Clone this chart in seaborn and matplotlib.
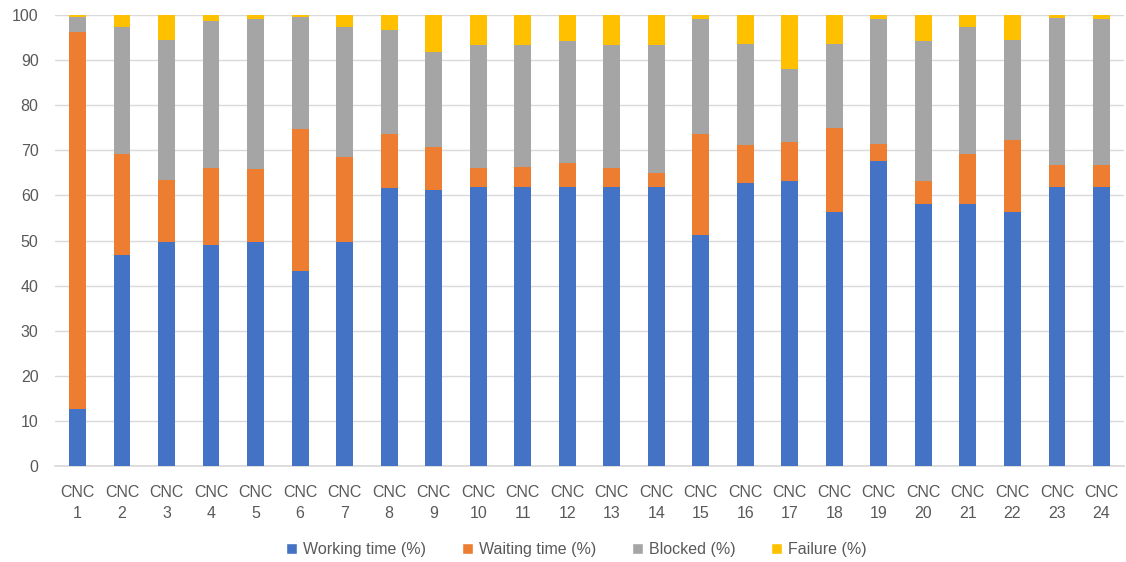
import numpy as np
import pandas as pd
import matplotlib
matplotlib.use("Agg")
import matplotlib.pyplot as plt
import seaborn as sns
from matplotlib.patches import Patch

machines = [f"CNC\n{i}" for i in range(1, 25)]

working = [12.6, 46.8, 49.6, 49.0, 49.6, 43.2, 49.6, 61.7, 61.2, 61.9, 61.9, 61.9,
           61.9, 61.9, 51.3, 62.8, 63.2, 56.3, 67.7, 58.1, 58.1, 56.3, 61.8, 61.8]
waiting = [83.6, 22.3, 13.8, 17.1, 16.2, 31.5, 19.0, 11.9, 9.5, 4.3, 4.4, 5.2,
           4.3, 3.1, 22.3, 8.3, 8.7, 18.7, 3.8, 5.1, 11.0, 15.9, 5.0, 5.0]
blocked = [3.4, 28.2, 31.2, 32.6, 33.3, 24.9, 28.7, 23.1, 21.1, 27.2, 27.1, 27.1,
           27.2, 28.4, 25.6, 22.5, 16.2, 18.6, 27.6, 31.0, 28.2, 22.3, 32.5, 32.3]
failure = [0.4, 2.7, 5.4, 1.3, 0.9, 0.4, 2.7, 3.3, 8.2, 6.6, 6.6, 5.8,
           6.6, 6.6, 0.8, 6.4, 11.9, 6.4, 0.9, 5.8, 2.7, 5.5, 0.7, 0.9]

series_names = ["Working time (%)", "Waiting time (%)", "Blocked (%)", "Failure (%)"]
colors = ["#4472C4", "#ED7D31", "#A5A5A5", "#FFC000"]

sns.set_theme(style="white")
plt.rcParams["font.family"] = ["Liberation Sans", "DejaVu Sans"]

fig = plt.figure(figsize=(11.26, 5.62), dpi=100)
ax = fig.add_axes([0.049, 0.171, 0.949, 0.802])

df = pd.DataFrame({"machine": machines, "Working time (%)": working,
                   "Waiting time (%)": waiting, "Blocked (%)": blocked,
                   "Failure (%)": failure})

# stack the four time shares bar by bar
bottom = np.zeros(len(machines))
for name, col in zip(series_names, colors):
    vals = df[name].to_numpy()
    sns.barplot(data=df, x="machine", y=name, color=col, width=0.38,
                bottom=bottom, saturation=1, ax=ax, zorder=3, linewidth=0)
    bottom = bottom + vals

ax.set_ylim(0, 100)
ax.set_xlim(-0.5, len(machines) - 0.5)
ax.set_yticks(range(0, 101, 10))
ax.yaxis.grid(True, color="#D9D9D9", linewidth=1, zorder=0)
ax.set_axisbelow(True)
for s in ["top", "right", "left"]:
    ax.spines[s].set_visible(False)
ax.spines["bottom"].set_color("#D9D9D9")
ax.set_xlabel("")
ax.set_ylabel("")
ax.tick_params(axis="both", length=0, colors="#595959", labelsize=11.5)
ax.tick_params(axis="x", pad=14)
ax.tick_params(axis="y", pad=12)
for lbl in ax.get_xticklabels():
    lbl.set_linespacing(1.45)

handles = [Patch(facecolor=c, label=n) for n, c in zip(series_names, colors)]
fig.legend(handles=handles, loc="center", bbox_to_anchor=(0.512, 0.022), ncol=4,
           frameon=False, fontsize=11.5, handlelength=0.7, handleheight=0.7,
           handletextpad=0.4, columnspacing=2.2, labelcolor="#595959")

fig.savefig("out.png", dpi=100)
